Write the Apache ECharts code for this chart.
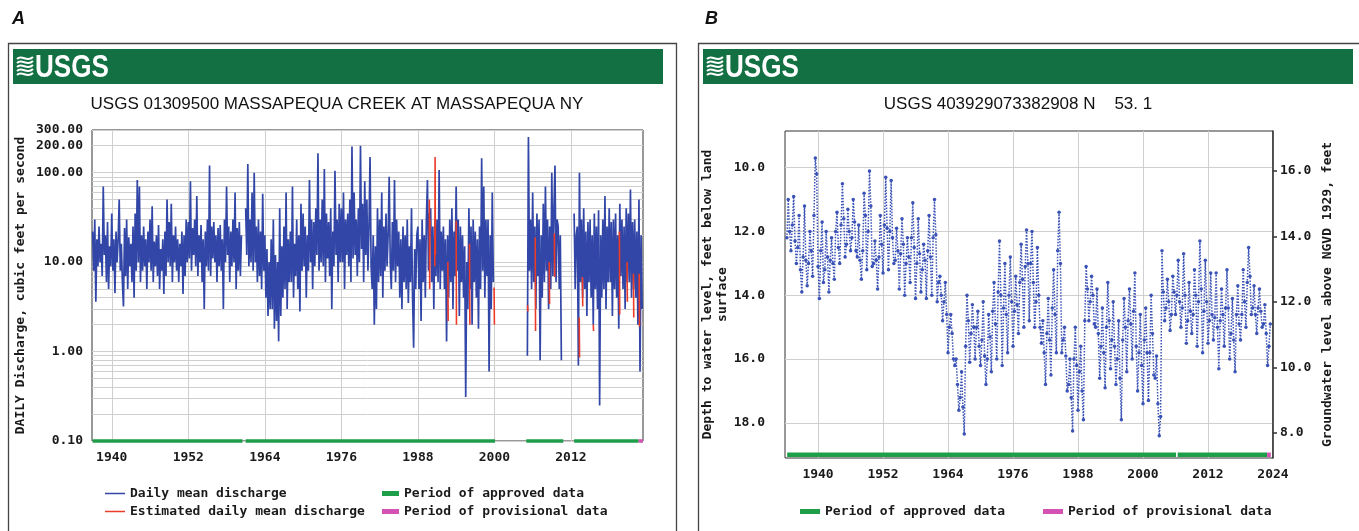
<!DOCTYPE html>
<html><head><meta charset="utf-8">
<script src="https://cdn.jsdelivr.net/npm/echarts@6/dist/echarts.min.js"></script>
<style>html,body{margin:0;padding:0;background:#fff}#c{width:1359px;height:531px}</style>
</head><body><div id="c"></div><script>
// ---------- Panel A: daily mean discharge (6 readings per year from 1937.0) ----------
const aStart = 1937;
const aPerYear = 6;
const discharge = [
/*1937*/ 22, 8, 30, 3.6, 18, 9,
/*1938*/ 25, 10, 16, 7, 70, 12,
/*1939*/ 20, 6, 28, 5, 15, 9,
/*1940*/ 35, 8, 18, 4.5, 22, 10,
/*1941*/ 18, 50, 8, 16, 6, 3.2,
/*1942*/ 24, 7, 30, 5, 19, 9,
/*1943*/ 16, 6, 25, 4, 35, 8,
/*1944*/ 83, 10, 70, 6, 20, 8,
/*1945*/ 25, 9, 18, 5, 22, 10,
/*1946*/ 30, 8, 42, 6, 17, 9,
/*1947*/ 20, 7, 26, 5, 14, 8,
/*1948*/ 18, 4.4, 22, 7, 50, 10,
/*1949*/ 28, 9, 45, 6, 20, 10,
/*1950*/ 25, 8, 18, 6, 16, 9,
/*1951*/ 22, 4.4, 20, 7, 30, 10,
/*1952*/ 28, 11, 80, 8, 24, 12,
/*1953*/ 30, 9, 55, 7, 20, 10,
/*1954*/ 26, 6, 18, 3.0, 22, 9,
/*1955*/ 30, 8, 120, 7, 25, 11,
/*1956*/ 28, 10, 20, 6, 24, 9,
/*1957*/ 26, 8, 18, 3.0, 30, 10,
/*1958*/ 70, 12, 25, 6, 22, 9,
/*1959*/ 30, 10, 60, 5, 24, 8,
/*1960*/ 28, 7, 20, null, null, null,
/*1961*/ 40, 12, 125, 9, 30, 10,
/*1962*/ 60, 8, 100, 10, 25, 6,
/*1963*/ 30, 7, 22, 5, 58, 8,
/*1964*/ 20, 4, 14, 2.5, 10, 3,
/*1965*/ 18, 3, 30, 1.8, 12, 2.2,
/*1966*/ 10, 1.3, 40, 2.5, 15, 4,
/*1967*/ 25, 5, 60, 3, 18, 6,
/*1968*/ 22, 6, 70, 4, 16, 7,
/*1969*/ 30, 5, 20, 2.8, 45, 8,
/*1970*/ 35, 9, 25, 4, 20, 8,
/*1971*/ 83, 10, 30, 5, 28, 9,
/*1972*/ 40, 12, 165, 8, 30, 10,
/*1973*/ 50, 9, 110, 6, 35, 11,
/*1974*/ 28, 7, 40, 3, 22, 9,
/*1975*/ 105, 12, 30, 6, 45, 10,
/*1976*/ 40, 10, 60, 5, 30, 12,
/*1977*/ 35, 9, 50, 6, 196, 11,
/*1978*/ 60, 12, 30, 7, 40, 10,
/*1979*/ 200, 14, 45, 6, 80, 12,
/*1980*/ 50, 8, 25, 150, 9, 5,
/*1981*/ 20, 2.0, 15, 3, 40, 6,
/*1982*/ 30, 7, 60, 4, 25, 8,
/*1983*/ 35, 9, 20, 90, 10, 5,
/*1984*/ 28, 8, 83, 6, 30, 9,
/*1985*/ 22, 4, 18, 3, 25, 6,
/*1986*/ 20, 5, 30, 3.5, 15, 6,
/*1987*/ 40, 4, 1.1, 14, 5, 20,
/*1988*/ 25, 5, 18, 2.2, 30, 6,
/*1989*/ 20, 4, 30, 83, 8, 35,
/*1990*/ 40, 6, 25, 3, 30, 7,
/*1991*/ 30, 6, 107, 5, 22, 8,
/*1992*/ 25, 5, 18, 1.3, 20, 4,
/*1993*/ 30, 6, 40, 3, 22, 7,
/*1994*/ 70, 8, 30, 2.5, 25, 6,
/*1995*/ 20, 4, 15, 0.31, 10, 3,
/*1996*/ 40, 5, 25, 2, 30, 6,
/*1997*/ 22, 4, 18, 1.8, 25, 5,
/*1998*/ 145, 8, 70, 4, 30, 7,
/*1999*/ 30, 0.6, 20, 3, 60, 6,
/*2000*/ null, null, null, null, null, null,
/*2001*/ null, null, null, null, null, null,
/*2002*/ null, null, null, null, null, null,
/*2003*/ null, null, null, null, null, null,
/*2004*/ null, null, null, null, null, null,
/*2005*/ null, 0.9, 250, 8, 30, 5,
/*2006*/ 60, 6, 25, 3, 35, 7,
/*2007*/ 30, 0.8, 20, 4, 45, 6,
/*2008*/ 70, 8, 30, 3, 25, 5,
/*2009*/ 100, 7, 40, 120, 6, 30,
/*2010*/ 25, 5, 20, 0.8, null, null,
/*2011*/ null, null, null, null, null, null,
/*2012*/ null, null, null, 35, 5, 20,
/*2013*/ 25, 0.7, 100, 6, 30, 4,
/*2014*/ 40, 5, 22, 2.5, 28, 6,
/*2015*/ 30, 4, 20, 2, 35, 5,
/*2016*/ 25, 3, 38, 0.25, 20, 4,
/*2017*/ 30, 5, 55, 3, 25, 6,
/*2018*/ 40, 6, 28, 2.5, 30, 5,
/*2019*/ 35, 4, 20, 1.8, 45, 7,
/*2020*/ 30, 5, 25, 3, 40, 6,
/*2021*/ 35, 6, 65, 4, 28, 5,
/*2022*/ 30, 4, 22, 2, 50, 0.6,
/*2023*/ 20, 3
];
// estimated daily mean discharge (short spikes, null = break)
const estYears = [1989.8, 1989.85, 1989.9, null, 1990.65, 1990.7, 1990.75, null, 1992.7, 1992.75, null,
  1994.0, 1994.05, null, 1996.1, 1996.15, null, 1999.95, 2000.0, null, 2005.2, 2005.25, null,
  2006.4, 2006.45, null, 2008.6, 2008.65, null, 2009.4, 2009.45, null, 2013.3, 2013.35, null,
  2013.8, 2013.85, null, 2015.5, 2015.55, null, 2019.6, 2019.65, null, 2020.8, 2020.85, null,
  2021.8, 2021.85, null, 2022.7, 2022.75];
const estValues = [50, 5, 30, null, 9, 150, 12, null, 10, 2.2, null,
  29, 2.0, null, 16, 2.0, null, 5.2, 2.0, null, 3.3, 2.8, null,
  19, 1.7, null, 10, 3.4, null, 21, 6.8, null, 2.4, 0.86, null,
  6.8, 3.2, null, 2.0, 1.7, null, 22, 2.6, null, 10, 3.6, null,
  7.4, 2.4, null, 7.4, 1.9];
const approvedStartA = [1937.0, 1961.0, 2005.0, 2012.5];
const approvedEndA = [1960.5, 2000.1, 2010.8, 2022.6];
const provisionalA = [2022.6, 2023.3];
const yearTicksA = [1940, 1952, 1964, 1976, 1988, 2000, 2012];
const flowLabelsA = [0.1, 1, 10, 100, 200, 300];
const flowGridA = [0.1, 0.2, 0.3, 0.4, 0.5, 0.6, 0.7, 0.8, 0.9, 1, 2, 3, 4, 5, 6, 7, 8, 9,
  10, 20, 30, 40, 50, 60, 70, 80, 90, 100, 200, 300];

// ---------- Panel B: depth to water level (4 readings per year from 1934.25) ----------
const bStart = 1934.25;
const bPerYear = 4;
const depth = [
/*1934*/ 12.2, 11.0, 12.0, 12.6,
/*1935*/ 11.8, 10.9, 12.3, 13.0,
/*1936*/ 12.5, 11.5, 13.2, 13.9,
/*1937*/ 12.8, 11.2, 12.9, 13.7,
/*1938*/ 13.0, 12.0, 12.6, 13.4,
/*1939*/ 11.5, 9.7, 10.2, 13.1,
/*1940*/ 14.1, 12.6, 11.7, 13.6,
/*1941*/ 13.2, 12.0, 12.8, 13.9,
/*1942*/ 12.9, 12.2, 13.0, 13.5,
/*1943*/ 12.0, 11.4, 12.5, 13.0,
/*1944*/ 11.8, 10.5, 11.6, 12.8,
/*1945*/ 12.4, 11.3, 12.0, 12.6,
/*1946*/ 12.2, 11.0, 11.7, 12.6,
/*1947*/ 12.8, 11.8, 12.9, 13.5,
/*1948*/ 12.6, 10.8, 11.5, 13.2,
/*1949*/ 12.0, 10.1, 11.2, 13.1,
/*1950*/ 13.0, 12.3, 12.9, 13.8,
/*1951*/ 12.8, 11.5, 12.4, 13.3,
/*1952*/ 11.8, 10.3, 11.9, 13.2,
/*1953*/ 12.0, 10.4, 12.2, 13.0,
/*1954*/ 12.9, 11.9, 12.6, 13.8,
/*1955*/ 12.7, 11.6, 12.4, 14.0,
/*1956*/ 13.0, 12.2, 12.8, 13.6,
/*1957*/ 12.2, 11.1, 12.5, 14.1,
/*1958*/ 13.0, 11.6, 12.7, 13.9,
/*1959*/ 13.2, 12.4, 12.9, 14.1,
/*1960*/ 12.6, 11.5, 12.8, 14.0,
/*1961*/ 12.2, 11.0, 12.1, 14.2,
/*1962*/ 13.6, 13.4, 14.0, 14.8,
/*1963*/ 14.2, 13.6, 14.6, 15.8,
/*1964*/ 15.0, 14.6, 15.2, 16.0,
/*1965*/ 16.2, 16.0, 16.8, 17.6,
/*1966*/ 17.2, 16.4, 17.5, 18.35,
/*1967*/ 15.6, 14.0, 14.8, 16.1,
/*1968*/ 15.2, 14.3, 15.0, 16.0,
/*1969*/ 15.0, 14.5, 15.6, 16.2,
/*1970*/ 15.4, 14.2, 15.9, 16.8,
/*1971*/ 16.0, 14.6, 15.3, 16.4,
/*1972*/ 14.5, 13.6, 14.9, 16.0,
/*1973*/ 13.9, 12.3, 14.0, 16.2,
/*1974*/ 14.4, 13.0, 14.6, 15.8,
/*1975*/ 14.0, 12.8, 14.2, 15.6,
/*1976*/ 14.5, 13.4, 14.3, 15.2,
/*1977*/ 13.6, 12.4, 13.5, 15.0,
/*1978*/ 13.1, 11.95, 13.0, 14.8,
/*1979*/ 13.0, 12.0, 13.6, 15.0,
/*1980*/ 14.2, 12.5, 14.0, 15.0,
/*1981*/ 15.5, 14.8, 15.8, 16.8,
/*1982*/ 15.2, 14.1, 15.4, 16.5,
/*1983*/ 14.4, 13.2, 14.6, 15.8,
/*1984*/ 12.6, 11.4, 13.0, 15.8,
/*1985*/ 15.4, 15.0, 15.9, 17.0,
/*1986*/ 16.8, 16.0, 17.2, 18.25,
/*1987*/ 16.0, 15.0, 16.2, 17.6,
/*1988*/ 16.4, 15.6, 17.0, 17.9,
/*1989*/ 14.8, 13.1, 13.8, 14.8,
/*1990*/ 14.2, 13.4, 14.0, 14.9,
/*1991*/ 15.0, 13.8, 15.2, 16.6,
/*1992*/ 15.6, 14.4, 15.8, 16.9,
/*1993*/ 15.0, 13.6, 14.8, 16.3,
/*1994*/ 15.4, 14.2, 15.6, 16.8,
/*1995*/ 16.0, 14.8, 16.6, 17.9,
/*1996*/ 15.4, 14.1, 15.0, 16.4,
/*1997*/ 14.8, 13.8, 14.9, 16.0,
/*1998*/ 14.5, 13.3, 15.6, 17.0,
/*1999*/ 15.8, 14.6, 16.2, 17.4,
/*2000*/ 15.4, 14.4, 15.8, 17.3,
/*2001*/ 15.8, 14.0, 15.2, 16.5,
/*2002*/ 16.6, 15.9, 17.4, 18.4,
/*2003*/ 17.8, 12.6, 13.9, 14.8,
/*2004*/ 14.4, 13.5, 14.2, 15.1,
/*2005*/ 14.6, 13.4, 13.9, 14.6,
/*2006*/ 14.0, 12.9, 14.2, 15.0,
/*2007*/ 14.4, 12.7, 14.0, 15.5,
/*2008*/ 14.8, 13.6, 14.5, 15.2,
/*2009*/ 14.6, 13.2, 14.0, 15.6,
/*2010*/ 14.2, 12.3, 13.8, 15.8,
/*2011*/ 14.5, 12.9, 14.2, 15.5,
/*2012*/ 14.8, 13.3, 14.6, 15.4,
/*2013*/ 14.7, 13.3, 15.0, 16.3,
/*2014*/ 14.8, 13.8, 14.6, 15.6,
/*2015*/ 14.4, 13.2, 14.4, 16.0,
/*2016*/ 15.2, 14.1, 15.4, 16.4,
/*2017*/ 14.6, 13.7, 14.9, 15.4,
/*2018*/ 14.6, 13.2, 14.2, 15.0,
/*2019*/ 13.6, 12.5, 13.4, 14.6,
/*2020*/ 14.4, 13.7, 14.6, 15.2,
/*2021*/ 14.4, 13.8, 14.5, 15.0,
/*2022*/ 14.9, 14.3, 15.2, 16.2,
/*2023*/ 15.6, 14.9
];
const approvedStartB = [1934.3, 2006.4];
const approvedEndB = [2006.1, 2022.9];
const provisionalB = [2022.9, 2023.6];
const yearTicksB = [1940, 1952, 1964, 1976, 1988, 2000, 2012, 2024];
const depthTicksB = [10, 12, 14, 16, 18];
const elevTicksB = [8, 10, 12, 14, 16];

// ---------- build ----------
const BLUE = '#3146a6', RED = '#ec3b26', GREEN = '#1e9e48', PINK = '#d352b4', DOTBLUE = '#3a52b6';
const MONO = '"DejaVu Sans Mono", "Liberation Mono", monospace';
const lab = {fontFamily: MONO, fontWeight: 'bold', fontSize: 13, color: '#1a1a1a'};

const dischargeData = discharge.map((v, i) => [aStart + i / aPerYear, v == null ? '-' : v]);
const estData = estYears.map((y, i) => y == null ? ['-', '-'] : [y, estValues[i]]);
function periods(starts, ends, level) {
  const out = [];
  starts.forEach((s, i) => { if (i) out.push(['-', '-']); out.push([s, level], [ends[i], level]); });
  return out;
}
const depthData = depth.map((v, i) => [bStart + i / bPerYear, v]);

const chart = echarts.init(document.getElementById('c'), null, {renderer: 'canvas'});

const waves = [];
for (const off of [0, 4, 8, 12, 16]) {
  for (const px of [16, 706]) {
    waves.push({type: 'bezierCurve', silent: true,
      shape: {x1: px + 1, y1: 59 + off, cpx1: px + 6, cpy1: 54 + off, cpx2: px + 11, cpy2: 63 + off, x2: px + 17, y2: 57 + off},
      style: {stroke: '#fff', lineWidth: 2, fill: null}});
  }
}

const option = {
  animation: false,
  backgroundColor: '#fff',
  graphic: [
    {type: 'text', x: 12, y: 10, style: {text: 'A', font: 'italic bold 18px "Liberation Sans", Arial, sans-serif', fill: '#111'}},
    {type: 'text', x: 705, y: 10, style: {text: 'B', font: 'italic bold 18px "Liberation Sans", Arial, sans-serif', fill: '#111'}},
    {type: 'rect', shape: {x: 8.5, y: 43.5, width: 668, height: 520}, style: {fill: 'transparent', stroke: '#444', lineWidth: 1.3}},
    {type: 'rect', shape: {x: 698.5, y: 43.5, width: 680, height: 520}, style: {fill: 'transparent', stroke: '#444', lineWidth: 1.3}},
    {type: 'rect', shape: {x: 13, y: 49, width: 650, height: 35}, style: {fill: '#137043'}},
    {type: 'rect', shape: {x: 703, y: 49, width: 650, height: 35}, style: {fill: '#137043'}},
    {type: 'text', x: 35, y: 53, scaleX: 0.84, style: {text: 'USGS', font: 'bold 31px "Liberation Sans", Arial, sans-serif', fill: '#fff'}},
    {type: 'text', x: 725, y: 53, scaleX: 0.84, style: {text: 'USGS', font: 'bold 31px "Liberation Sans", Arial, sans-serif', fill: '#fff'}},
    {type: 'text', x: 337, y: 104, style: {text: 'USGS 01309500 MASSAPEQUA CREEK AT MASSAPEQUA NY', font: '17px "Liberation Sans", Arial, sans-serif', fill: '#111', textAlign: 'center', textVerticalAlign: 'middle'}},
    {type: 'text', x: 1018, y: 104, style: {text: 'USGS 403929073382908 N    53. 1', font: '17px "Liberation Sans", Arial, sans-serif', fill: '#111', textAlign: 'center', textVerticalAlign: 'middle'}}
  ].concat(waves),
  grid: [
    {left: 92, top: 130, width: 551, height: 311, show: true, borderColor: '#333', borderWidth: 1, backgroundColor: '#fff'},
    {left: 785, top: 131, width: 488, height: 327, show: true, borderColor: '#333', borderWidth: 1, backgroundColor: '#fff'}
  ],
  xAxis: [
    {gridIndex: 0, type: 'value', min: 1936.9, max: 2023.3,
      axisLine: {show: false}, axisTick: {show: false, customValues: yearTicksA},
      axisLabel: Object.assign({customValues: yearTicksA, margin: 10, formatter: v => String(Math.round(v))}, lab),
      splitLine: {show: true, lineStyle: {color: '#cfcfcf', width: 1}}},
    {gridIndex: 1, type: 'value', min: 1933.9, max: 2024,
      axisLine: {show: false}, axisTick: {show: false, customValues: yearTicksB},
      axisLabel: Object.assign({customValues: yearTicksB, margin: 10, formatter: v => String(Math.round(v))}, lab),
      splitLine: {show: true, lineStyle: {color: '#cfcfcf', width: 1}}}
  ],
  yAxis: [
    {gridIndex: 0, type: 'log', logBase: 10, min: 0.1, max: 300,
      axisLine: {show: false}, axisTick: {show: false, customValues: flowGridA},
      axisLabel: Object.assign({customValues: flowLabelsA, margin: 9, formatter: v => Number(v).toFixed(2)}, lab),
      splitLine: {show: true, lineStyle: {color: '#cfcfcf', width: 1}},
      name: 'DAILY Discharge, cubic feet per second', nameLocation: 'middle', nameRotate: 90, nameGap: 65,
      nameTextStyle: Object.assign({}, lab)},
    {gridIndex: 1, type: 'value', inverse: true, min: 8.85, max: 19.1,
      axisLine: {show: false}, axisTick: {show: false, customValues: depthTicksB},
      axisLabel: Object.assign({customValues: depthTicksB, margin: 20, formatter: v => Number(v).toFixed(1)}, lab),
      splitLine: {show: true, lineStyle: {color: '#cfcfcf', width: 1}},
      name: 'Depth to water level, feet below land\nsurface', nameLocation: 'middle', nameRotate: 90, nameGap: 47,
      nameTextStyle: Object.assign({lineHeight: 15, align: 'center'}, lab)},
    {gridIndex: 1, type: 'value', position: 'right', min: 7.24, max: 17.21,
      axisLine: {show: true, lineStyle: {color: '#333', width: 1.5}},
      axisTick: {show: true, length: 4, customValues: elevTicksB, lineStyle: {color: '#333', width: 1.5}},
      axisLabel: Object.assign({customValues: elevTicksB, margin: 7, formatter: v => Number(v).toFixed(1)}, lab),
      splitLine: {show: false},
      name: 'Groundwater level above NGVD 1929, feet', nameLocation: 'middle', nameRotate: 90, nameGap: 48,
      nameTextStyle: Object.assign({}, lab)}
  ],
  legend: [
    {left: 100, top: 481, orient: 'vertical', icon: 'rect', itemWidth: 20, itemHeight: 1.5, itemGap: 3, selectedMode: false,
      data: ['Daily mean discharge', 'Estimated daily mean discharge'], textStyle: Object.assign({lineHeight: 15}, lab)},
    {left: 377, top: 481, orient: 'vertical', icon: 'rect', itemWidth: 17, itemHeight: 5, itemGap: 3, selectedMode: false,
      data: ['Period of approved data', 'Period of provisional data'], textStyle: Object.assign({lineHeight: 15}, lab)},
    {left: 795, top: 499, orient: 'horizontal', icon: 'rect', itemWidth: 20, itemHeight: 5, itemGap: 38, selectedMode: false,
      data: ['Period of approved data', 'Period of provisional data'], textStyle: Object.assign({lineHeight: 15}, lab)}
  ],
  series: [
    {name: 'Daily mean discharge', type: 'line', xAxisIndex: 0, yAxisIndex: 0, data: dischargeData,
      symbol: 'none', showSymbol: false, connectNulls: false, silent: true, z: 2,
      lineStyle: {color: BLUE, width: 1.7}, itemStyle: {color: BLUE}},
    {name: 'Estimated daily mean discharge', type: 'line', xAxisIndex: 0, yAxisIndex: 0, data: estData,
      symbol: 'none', showSymbol: false, connectNulls: false, silent: true, z: 3,
      lineStyle: {color: RED, width: 1.6}, itemStyle: {color: RED}},
    {name: 'Period of approved data', type: 'line', xAxisIndex: 0, yAxisIndex: 0,
      data: periods(approvedStartA, approvedEndA, 0.1), symbol: 'none', clip: false, silent: true, z: 5,
      lineStyle: {color: GREEN, width: 3.5}, itemStyle: {color: GREEN}},
    {name: 'Period of provisional data', type: 'line', xAxisIndex: 0, yAxisIndex: 0,
      data: periods([provisionalA[0]], [provisionalA[1]], 0.1), symbol: 'none', clip: false, silent: true, z: 5,
      lineStyle: {color: PINK, width: 3.5}, itemStyle: {color: PINK}},
    {name: 'Depth to water level', type: 'line', xAxisIndex: 1, yAxisIndex: 1, data: depthData,
      symbol: 'circle', symbolSize: 3.5, showSymbol: true, showAllSymbol: true, silent: true, z: 2,
      lineStyle: {color: DOTBLUE, width: 1.5, type: 'dotted'}, itemStyle: {color: DOTBLUE}},
    {name: 'Period of approved data', type: 'line', xAxisIndex: 1, yAxisIndex: 1,
      data: periods(approvedStartB, approvedEndB, 19.0), symbol: 'none', clip: false, silent: true, z: 5,
      lineStyle: {color: GREEN, width: 4.5}, itemStyle: {color: GREEN}},
    {name: 'Period of provisional data', type: 'line', xAxisIndex: 1, yAxisIndex: 1,
      data: periods([provisionalB[0]], [provisionalB[1]], 19.0), symbol: 'none', clip: false, silent: true, z: 5,
      lineStyle: {color: PINK, width: 4.5}, itemStyle: {color: PINK}}
  ]
};
chart.setOption(option);
</script></body></html>
